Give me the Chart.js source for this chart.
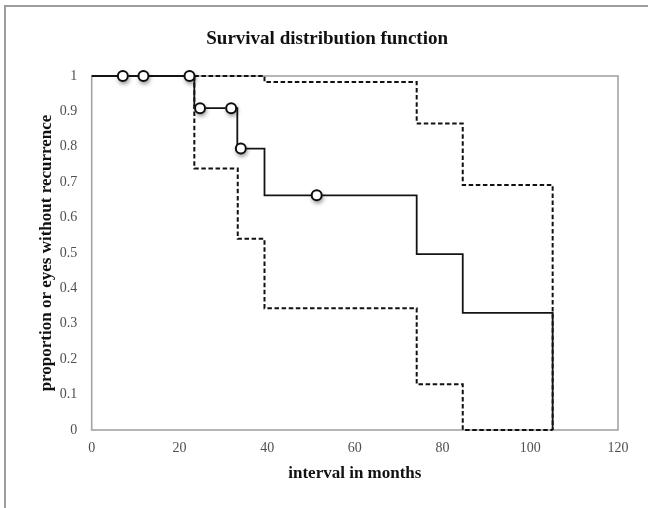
<!DOCTYPE html>
<html>
<head>
<meta charset="utf-8">
<script src="https://cdn.jsdelivr.net/npm/chart.js@4.4.1/dist/chart.umd.min.js"></script>
<style>
  html, body { margin: 0; padding: 0; background: #ffffff; }
  #wrap { width: 648px; height: 508px; }
</style>
</head>
<body>
<div id="wrap"><canvas id="c" width="648" height="508"></canvas></div>
<script>
// ---- data ----
const kmTimes      = [0, 23.4, 33.2, 39.4, 74.1, 84.6, 105.1];
const kmSurvival   = [1, 0.909, 0.795, 0.663, 0.497, 0.331, 0];

const censorTimes  = [7.1, 11.8, 22.3, 24.7, 31.8, 34.0, 51.3];
const censorValues = [1, 1, 1, 0.909, 0.909, 0.795, 0.663];

const lowerTimes   = [23.4, 23.4, 33.3, 39.4, 74.1, 84.6, 105.1];
const lowerValues  = [1, 0.739, 0.540, 0.344, 0.129, 0, 0];

const upperTimes   = [23.4, 39.4, 74.1, 84.6, 105.1];
const upperValues  = [1, 0.983, 0.866, 0.692, 0];

const xTicks = [0, 20, 40, 60, 80, 100, 120];
const yTickLabels = ['0','0.1','0.2','0.3','0.4','0.5','0.6','0.7','0.8','0.9','1'];

const chartTitle = 'Survival distribution function';
const xTitle = 'interval in months';
const yTitle = 'proportion or eyes without recurrence';

const pts = (xs, ys) => xs.map((x, i) => ({ x: x, y: ys[i] }));

const framePlugin = {
  id: 'frames',
  beforeDatasetsDraw(chart) {
    const { ctx, chartArea: a } = chart;
    ctx.save();
    // outer frame: only top and left edges are visible in the reference
    ctx.strokeStyle = '#9d9d9d';
    ctx.lineWidth = 2;
    ctx.beginPath();
    ctx.moveTo(5, 508);
    ctx.lineTo(5, 6);
    ctx.lineTo(648, 6);
    ctx.stroke();
    // plot frame
    ctx.strokeStyle = '#a3a3a3';
    ctx.lineWidth = 1.6;
    ctx.strokeRect(a.left, a.top, a.right - a.left, a.bottom - a.top);
    ctx.restore();
  }
};

// soft drop shadow under the censor markers (drawn before the markers themselves)
const shadowPlugin = {
  id: 'markerShadow',
  beforeDatasetDraw(chart, args) {
    if (chart.data.datasets[args.index].label !== 'censored') return;
    const ctx = chart.ctx;
    ctx.save();
    ctx.shadowColor = 'rgba(0,0,0,0.45)';
    ctx.shadowBlur = 4;
    ctx.shadowOffsetX = 1;
    ctx.shadowOffsetY = 2.5;
    ctx.fillStyle = '#ffffff';
    args.meta.data.forEach(p => {
      ctx.beginPath();
      ctx.arc(p.x, p.y, 5.5, 0, Math.PI * 2);
      ctx.fill();
    });
    ctx.restore();
  }
};

const tickFont = { family: '"Liberation Serif", "Times New Roman", serif', size: 14 };
const titleFont = { family: '"Liberation Serif", "Times New Roman", serif', size: 17, weight: 'bold' };

new Chart(document.getElementById('c'), {
  type: 'scatter',
  data: {
    datasets: [
      {
        label: 'censored',
        data: pts(censorTimes, censorValues),
        showLine: false,
        pointRadius: 5,
        pointBorderWidth: 2,
        pointBackgroundColor: '#ffffff',
        pointBorderColor: '#0d0d0d',
        clip: false,
        order: 0
      },
      {
        label: 'survival',
        data: pts(kmTimes, kmSurvival),
        showLine: true,
        stepped: 'before',
        borderColor: '#141414',
        borderWidth: 1.8,
        pointRadius: 0,
        fill: false,
        clip: false,
        order: 1
      },
      {
        label: 'lower',
        data: pts(lowerTimes, lowerValues),
        showLine: true,
        stepped: 'before',
        borderColor: '#111111',
        borderWidth: 2,
        borderDash: [4.5, 2.6],
        pointRadius: 0,
        fill: false,
        clip: false,
        order: 2
      },
      {
        label: 'upper',
        data: pts(upperTimes, upperValues),
        showLine: true,
        stepped: 'before',
        borderColor: '#111111',
        borderWidth: 2,
        borderDash: [4.5, 2.6],
        pointRadius: 0,
        fill: false,
        clip: false,
        order: 2
      }
    ]
  },
  options: {
    responsive: false,
    animation: false,
    devicePixelRatio: 1,
    events: [],
    layout: { padding: { left: 36.3, right: 30, top: 0, bottom: 0 } },
    plugins: {
      legend: { display: false },
      tooltip: { enabled: false },
      title: {
        display: true,
        text: chartTitle,
        color: '#111111',
        font: { family: '"Liberation Serif", "Times New Roman", serif', size: 19, weight: 'bold' },
        padding: { top: 27.5, bottom: 25.7 }
      }
    },
    scales: {
      x: {
        type: 'linear',
        min: 0,
        max: 120,
        afterBuildTicks(scale) { scale.ticks = xTicks.map(v => ({ value: v })); },
        grid: { display: false, drawTicks: false },
        border: { display: false },
        ticks: { color: '#4f4f4f', font: tickFont, padding: 10, maxRotation: 0 },
        title: { display: true, text: xTitle, color: '#111111', font: titleFont, padding: { top: 0, bottom: 24.5 } },
        afterFit(scale) { scale.height = 78; }
      },
      y: {
        type: 'linear',
        min: 0,
        max: 1,
        afterBuildTicks(scale) { scale.ticks = yTickLabels.map((t, i) => ({ value: i / 10 })); },
        grid: { display: false, drawTicks: false },
        border: { display: false },
        ticks: {
          color: '#4f4f4f', font: tickFont, padding: 14.5,
          callback: (v, i) => yTickLabels[i]
        },
        title: { display: true, text: yTitle, color: '#111111', font: titleFont, padding: { top: 0, bottom: 0 } },
        afterFit(scale) { scale.width = 55.4; }
      }
    }
  },
  plugins: [framePlugin, shadowPlugin]
});
</script>
</body>
</html>
